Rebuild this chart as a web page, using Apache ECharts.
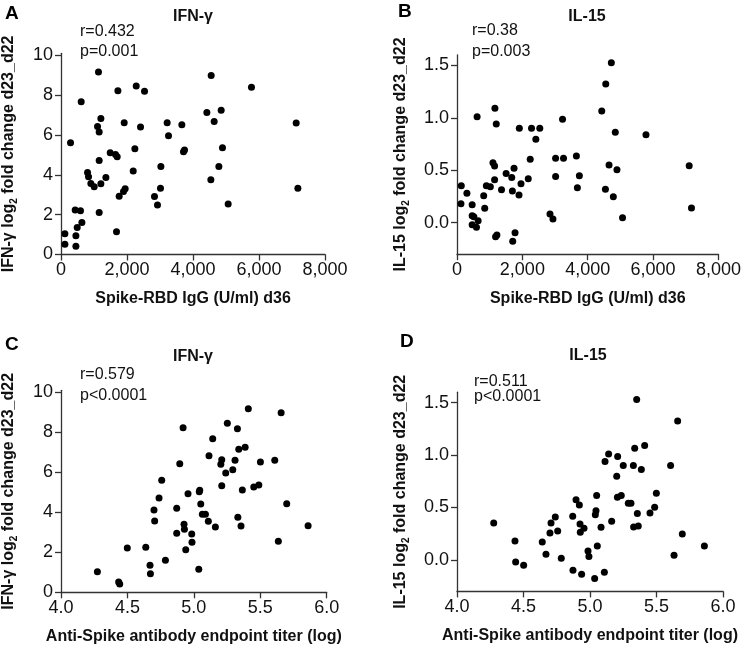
<!DOCTYPE html>
<html>
<head>
<meta charset="utf-8">
<script src="https://cdn.jsdelivr.net/npm/echarts@6/dist/echarts.min.js"></script>
<style>html,body{margin:0;padding:0;background:#fff}#c{width:744px;height:646px}</style>
</head>
<body>
<div id="c"></div>
<script>
// Panel A: Spike-RBD IgG (U/ml) d36 vs IFN-γ
var aX = [1136,1724,2279,2531,612,1208,1107,1157,1915,2410,3217,3662,3258,289,2238,1491,1652,1703,3712,3743,1157,3026,2188,804,834,1360,905,1006,1208,1945,1894,1763,3015,2833,2924,430,591,1157,633,491,1682,118,451,118,451,4551,5772,4420,4854,4642,7127,4893,4784,4541,7178,5066];
var aY = [9.16,8.22,8.46,8.19,7.67,6.83,6.43,6.15,6.61,6.40,6.61,6.51,5.96,5.61,5.31,5.11,5.02,4.91,5.16,5.24,4.72,4.42,4.19,4.12,3.90,3.87,3.57,3.40,3.55,3.30,3.16,2.93,3.33,2.91,2.48,2.24,2.19,2.11,1.61,1.36,1.14,1.04,0.94,0.52,0.42,8.98,8.39,7.13,7.24,6.68,6.60,5.36,4.42,3.75,3.33,2.54];
// Panel B: Spike-RBD IgG (U/ml) d36 vs IL-15
var bX = [1160,615,1201,1907,2280,2533,2412,3229,2240,3017,3259,3653,1100,1150,1745,1503,1675,1150,2180,3017,131,898,1020,1958,303,817,1362,1695,1897,121,464,848,464,515,646,464,595,2845,2936,1180,1221,1776,1705,4722,4551,4429,4843,5782,4652,4894,7104,3744,3683,4541,4783,7174,5065];
var bY = [1.09,1.01,0.94,0.90,0.90,0.90,0.795,0.985,0.604,0.614,0.614,0.636,0.572,0.54,0.52,0.47,0.43,0.41,0.42,0.44,0.353,0.353,0.343,0.372,0.28,0.257,0.315,0.302,0.264,0.181,0.172,0.137,0.067,0.057,0.019,-0.019,-0.044,0.083,0.035,-0.133,-0.117,-0.095,-0.177,1.525,1.322,1.065,0.862,0.839,0.55,0.505,0.543,0.448,0.334,0.318,0.248,0.14,0.048];
// Panel C: Anti-Spike antibody endpoint titer (log) vs IFN-γ
var cX = [4.919,4.894,4.758,4.738,4.956,4.700,4.871,4.705,4.926,4.929,4.871,4.984,4.986,4.939,4.499,4.638,4.786,4.670,4.673,4.274,4.434,4.442,5.410,5.657,5.252,5.328,5.142,5.338,5.386,5.114,5.210,5.203,5.310,5.501,5.609,5.293,5.240,5.210,5.365,5.451,5.489,5.044,5.041,5.052,5.699,5.064,5.087,5.109,5.162,5.331,5.355,5.860,5.636,5.037];
var cY = [8.23,6.43,5.60,4.72,4.93,4.12,4.20,3.57,3.40,3.15,2.95,2.92,2.50,2.13,2.22,2.25,1.60,1.35,0.93,1.03,0.52,0.42,9.18,8.98,8.45,8.18,7.68,7.15,7.25,6.83,6.63,6.40,6.60,6.52,6.60,6.13,5.97,5.33,5.12,5.27,5.37,5.10,5.03,4.42,4.43,3.90,3.90,3.55,3.27,3.75,3.32,3.33,2.55,1.15];
// Panel D: Anti-Spike antibody endpoint titer (log) vs IL-15
var dX = [4.895,4.920,4.276,4.739,4.707,4.870,4.925,4.955,4.927,4.699,4.757,4.436,4.641,4.669,4.441,4.501,4.784,4.872,4.937,5.351,5.659,5.336,5.411,5.140,5.208,5.113,5.250,5.326,5.386,5.606,5.201,5.050,5.206,5.235,5.499,5.288,5.308,5.486,5.451,5.356,5.045,5.040,5.163,5.083,5.328,5.363,5.694,4.985,4.992,5.055,5.860,5.632,5.035,5.108];
var dY = [0.573,0.525,0.353,0.41,0.353,0.417,0.344,0.302,0.264,0.258,0.277,0.181,0.172,0.054,-0.019,-0.051,0.016,-0.099,-0.137,1.53,1.326,1.066,1.091,1.011,0.986,0.938,0.90,0.90,0.862,0.90,0.799,0.614,0.598,0.614,0.636,0.541,0.541,0.503,0.448,0.442,0.47,0.432,0.369,0.312,0.315,0.324,0.248,0.086,0.032,0.134,0.134,0.045,-0.178,-0.117];

var titles = ['IFN-γ','IL-15','IFN-γ','IL-15'];
var letters = ['A','B','C','D'];
var stats = [['r=0.432','p=0.001'],['r=0.38','p=0.003'],['r=0.579','p<0.0001'],['r=0.511','p<0.0001']];
var xNames = ['Spike-RBD IgG (U/ml) d36','Spike-RBD IgG (U/ml) d36','Anti-Spike antibody endpoint titer (log)','Anti-Spike antibody endpoint titer (log)'];
var yNames = ['{a|IFN-γ log}{s|2}{a| fold change d23_d22}','{a|IL-15 log}{s|2}{a| fold change d23_d22}','{a|IFN-γ log}{s|2}{a| fold change d23_d22}','{a|IL-15 log}{s|2}{a| fold change d23_d22}'];
var ifnTicks = [0,2,4,6,8,10];
var il15Ticks = [0,0.5,1.0,1.5];

function zip(xs, ys){ return xs.map(function(v,i){ return [v, ys[i]]; }); }

var FONT = 'Liberation Sans, Arial, Helvetica, sans-serif';
var chart = echarts.init(document.getElementById('c'), null, {renderer:'canvas'});

var grids = [
  {left:61, top:53.3, width:264, height:201.2},
  {left:457, top:54.8, width:264.3, height:199.4},
  {left:61, top:390.3, width:265.7, height:202},
  {left:457, top:392.2, width:266, height:199.2}
];
var axisLine = {show:true, onZero:false, lineStyle:{color:'#333', width:1.3}};
var axisTick = {show:true, length:6, lineStyle:{color:'#333', width:1.3}};
var labelBase = {color:'#111', fontSize:18, fontFamily:FONT};

var xAxes = [0,1,2,3].map(function(i){
  var spike = i < 2;
  return {
    type:'value', gridIndex:i,
    min: spike ? 0 : 4, max: spike ? 8000 : 6, interval: spike ? 2000 : 0.5,
    name: xNames[i], nameLocation:'middle', nameGap:36,
    nameTextStyle:{fontSize:16, fontWeight:'bold', color:'#111', fontFamily:FONT},
    axisLine: axisLine, axisTick: axisTick, splitLine:{show:false},
    axisLabel: Object.assign({}, labelBase, {margin:7, formatter: function(v){
      return spike ? v.toLocaleString('en-US') : v.toFixed(1);
    }})
  };
});
var yAxes = [0,1,2,3].map(function(i){
  var ifn = (i % 2 === 0);
  var ticks = ifn ? ifnTicks : il15Ticks;
  return {
    type:'value', gridIndex:i,
    min: ifn ? 0 : -0.3, max: ifn ? 10.1 : 1.6,
    name: yNames[i], nameLocation:'middle', nameRotate:90, nameGap: ifn ? 42 : 46,
    nameTextStyle:{fontFamily:FONT, rich:{
      a:{fontSize:16, fontWeight:'bold', color:'#111', fontFamily:FONT, lineHeight:20, verticalAlign:'middle'},
      s:{fontSize:10, fontWeight:'bold', color:'#111', fontFamily:FONT, lineHeight:12, verticalAlign:'bottom'}
    }},
    axisLine: axisLine,
    axisTick: Object.assign({}, axisTick, {customValues: ticks}),
    splitLine:{show:false},
    axisLabel: Object.assign({}, labelBase, {margin:8, customValues: ticks, formatter: function(v){
      return ifn ? String(v) : v.toFixed(1);
    }})
  };
});

var datasets = [zip(aX,aY), zip(bX,bY), zip(cX,cY), zip(dX,dY)];
var series = datasets.map(function(d,i){
  return {type:'scatter', xAxisIndex:i, yAxisIndex:i, data:d, symbolSize:7,
    itemStyle:{color:'#000', opacity:1}, silent:true, animation:false};
});

// Text annotations
var titlePos = [[193,17],[587,17],[193,357],[588,356]];
var letterPos = [[5,14],[398,12],[5,345],[400,342]];
var statPos = [[80,32,52],[472,31,52],[80,375,396],[474,382,397]];
var graphics = [];
for (var i=0;i<4;i++){
  graphics.push({type:'text', style:{text:titles[i], x:titlePos[i][0], y:titlePos[i][1], textAlign:'center', textVerticalAlign:'middle', font:'bold 16px '+FONT, fill:'#111'}});
  graphics.push({type:'text', style:{text:letters[i], x:letterPos[i][0], y:letterPos[i][1], textAlign:'left', textVerticalAlign:'middle', font:'bold 19px '+FONT, fill:'#000'}});
  graphics.push({type:'text', style:{text:stats[i][0], x:statPos[i][0], y:statPos[i][1], textAlign:'left', textVerticalAlign:'middle', font:'16px '+FONT, fill:'#111'}});
  graphics.push({type:'text', style:{text:stats[i][1], x:statPos[i][0], y:statPos[i][2], textAlign:'left', textVerticalAlign:'middle', font:'16px '+FONT, fill:'#111'}});
}

chart.setOption({
  animation:false,
  backgroundColor:'#fff',
  grid: grids,
  xAxis: xAxes,
  yAxis: yAxes,
  series: series,
  graphic: graphics
});
</script>
</body>
</html>
